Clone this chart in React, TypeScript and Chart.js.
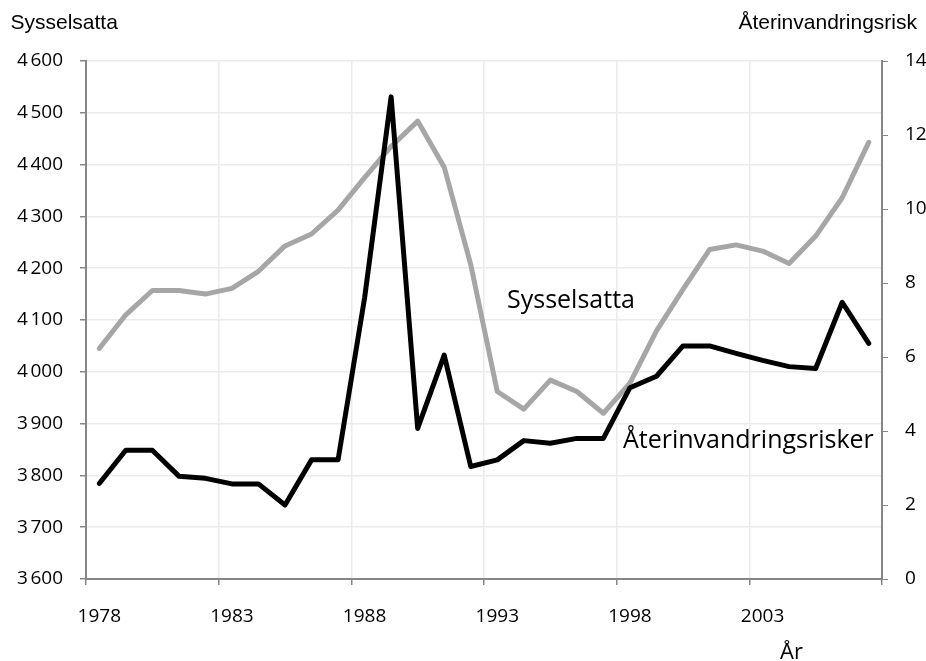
import React, { useEffect, useRef } from "react";
import { Chart, registerables } from "chart.js";

Chart.register(...registerables);

const years: string[] = [
  "1978", "1979", "1980", "1981", "1982", "1983", "1984", "1985", "1986", "1987",
  "1988", "1989", "1990", "1991", "1992", "1993", "1994", "1995", "1996", "1997",
  "1998", "1999", "2000", "2001", "2002", "2003", "2004", "2005", "2006", "2007",
];

// Sysselsatta (left axis, thousands)
const sysselsatta: number[] = [
  4045, 4110, 4157, 4157, 4150, 4161, 4194, 4243, 4266, 4312,
  4375, 4435, 4484, 4395, 4207, 3962, 3928, 3984, 3962, 3920,
  3978, 4079, 4159, 4236, 4245, 4233, 4209, 4262, 4336, 4443,
];

// Återinvandringsrisker (right axis)
const aterinvandring: number[] = [
  2.58, 3.48, 3.48, 2.78, 2.72, 2.57, 2.57, 2.0, 3.22, 3.22,
  7.6, 13.03, 4.07, 6.05, 3.04, 3.22, 3.74, 3.67, 3.8, 3.8,
  5.17, 5.48, 6.3, 6.3, 6.1, 5.91, 5.74, 5.69, 7.48, 6.37,
];

const leftTicks = { min: 3600, max: 4600, step: 100 };
const rightTicks = { min: 0, max: 14, step: 2 };

const AXIS = "#868686";
const GRID = "#ebebeb";
const TICK_FONT = { family: "'Open Sans', sans-serif", size: 19 };

const formatThousands = (v: number) => {
  const s = String(Math.round(v));
  return s.length > 3 ? s.slice(0, s.length - 3) + "\u202f" + s.slice(-3) : s;
};

const textPlugin = {
  id: "texts",
  afterDraw(chart: any) {
    const c = chart.ctx as CanvasRenderingContext2D;
    c.save();
    c.fillStyle = "#000";
    c.textBaseline = "alphabetic";
    c.font = "21px 'Liberation Sans', Arial, sans-serif";
    c.textAlign = "left";
    c.fillText("Sysselsatta", 10.5, 29);
    c.textAlign = "right";
    c.fillText("Återinvandringsrisk", 917, 29);
    c.textAlign = "left";
    c.font = "25px 'Open Sans', sans-serif";
    c.fillText("Sysselsatta", 507, 308);
    c.fillText("Återinvandringsrisker", 623, 448);
    c.font = "22px 'Open Sans', sans-serif";
    c.fillText("År", 780, 659);
    c.restore();
  },
};

export default function App() {
  const canvasRef = useRef<HTMLCanvasElement | null>(null);

  useEffect(() => {
    document.body.style.margin = "0";
    let chart: Chart | null = null;
    let cancelled = false;
    const fontsReady = (document as any).fonts
      ? Promise.all([
          (document as any).fonts.load("19px 'Open Sans'"),
          (document as any).fonts.load("25px 'Open Sans'"),
          (document as any).fonts.load("21px 'Liberation Sans'"),
        ]).catch(() => null)
      : Promise.resolve(null);

    fontsReady.then(() => {
      if (cancelled || !canvasRef.current) return;
      const gridOn = (ctx: any, on: string) =>
        ctx.index === undefined || ctx.index % 5 === 0 ? on : "rgba(0,0,0,0)";
      chart = new Chart(canvasRef.current, {
        type: "line",
        data: {
          labels: years,
          datasets: [
            {
              label: "Återinvandringsrisker",
              data: aterinvandring,
              yAxisID: "yRight",
              borderColor: "#000000",
              backgroundColor: "#000000",
              borderWidth: 5,
              pointRadius: 0,
              borderJoinStyle: "round",
              borderCapStyle: "round",
              tension: 0,
              order: 0,
            },
            {
              label: "Sysselsatta",
              data: sysselsatta,
              yAxisID: "yLeft",
              borderColor: "#a6a6a6",
              backgroundColor: "#a6a6a6",
              borderWidth: 5,
              pointRadius: 0,
              borderJoinStyle: "round",
              borderCapStyle: "round",
              tension: 0,
              order: 1,
            },
          ],
        },
        options: {
          animation: false,
          responsive: true,
          maintainAspectRatio: false,
          layout: { padding: { top: 61, left: 0, right: 0, bottom: 0 } },
          plugins: {
            legend: { display: false },
            tooltip: { enabled: false },
            title: { display: false },
          },
          scales: {
            x: {
              type: "category",
              offset: true,
              grid: {
                offset: true,
                color: (ctx: any) => gridOn(ctx, GRID),
                tickColor: (ctx: any) => gridOn(ctx, AXIS),
                lineWidth: 1.5,
                tickLength: 6,
              },
              border: { color: AXIS, width: 2 },
              ticks: {
                autoSkip: false,
                maxRotation: 0,
                minRotation: 0,
                padding: 20,
                color: "#000",
                font: TICK_FONT,
                callback: (_v: any, i: number) => (i % 5 === 0 ? years[i] : ""),
              },
              afterFit: (scale: any) => {
                scale.height = 82;
              },
            },
            yLeft: {
              type: "linear",
              position: "left",
              min: leftTicks.min,
              max: leftTicks.max,
              grid: { color: GRID, lineWidth: 1.5, tickColor: AXIS, tickLength: 6 },
              border: { color: AXIS, width: 2 },
              ticks: {
                stepSize: leftTicks.step,
                padding: 17,
                color: "#000",
                font: TICK_FONT,
                callback: (v: any) => formatThousands(Number(v)),
              },
              afterFit: (scale: any) => {
                scale.width = 86;
              },
            },
            yRight: {
              type: "linear",
              position: "right",
              min: rightTicks.min,
              max: rightTicks.max,
              grid: { drawOnChartArea: false, tickColor: AXIS, tickLength: 6 },
              border: { color: AXIS, width: 2 },
              ticks: {
                stepSize: rightTicks.step,
                padding: 17,
                color: "#000",
                font: TICK_FONT,
              },
              afterFit: (scale: any) => {
                scale.width = 44;
              },
            },
          },
        },
        plugins: [textPlugin],
      } as any);
    });

    return () => {
      cancelled = true;
      if (chart) chart.destroy();
    };
  }, []);

  return (
    <div style={{ width: 926, height: 661, position: "relative", background: "#fff" }}>
      <canvas ref={canvasRef} />
    </div>
  );
}
